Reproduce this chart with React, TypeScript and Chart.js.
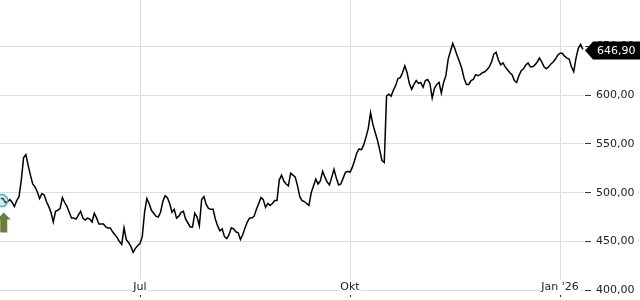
import React, { useEffect, useRef } from 'react';
import { Chart, registerables } from 'chart.js';

Chart.register(...registerables);

// Day index 0 = 2025-04-30; one value per calendar day starting at day 1
const firstDay = 1;
const prices: number[] = [
  494, 494, 490, 491, 493, 490, 486, 492, 496, 513,
  536, 539, 528, 518, 509, 506, 501, 494, 499, 498,
  491, 486, 480, 470, 481, 482, 484, 495, 490, 486,
  480, 474, 474, 473, 477, 481, 474, 472, 474, 473,
  470, 479, 474, 468, 468, 468, 465, 464, 464, 460,
  457, 454, 450, 447, 464, 452, 449, 445, 439, 443,
  446, 448, 455, 480, 494, 489, 482, 479, 476, 475,
  480, 491, 497, 495, 489, 480, 483, 474, 476, 480,
  481, 473, 469, 465, 465, 479, 475, 466, 493, 496,
  488, 484, 483, 483, 473, 466, 461, 463, 455, 453,
  457, 464, 463, 460, 459, 452, 457, 464, 470, 474,
  474, 476, 483, 489, 495, 493, 485, 489, 487, 489,
  492, 492, 513, 518, 512, 509, 507, 520, 518, 516,
  507, 496, 492, 491, 489, 487, 500, 507, 514, 509,
  512, 522, 516, 511, 508, 516, 524, 515, 508, 509,
  515, 521, 522, 521, 526, 533, 541, 545, 544, 549,
  557, 566, 582, 570, 562, 554, 544, 533, 531, 599,
  601, 599, 605, 610, 617, 618, 623, 630, 623, 612,
  606, 611, 615, 612, 613, 608, 615, 616, 612, 597,
  607, 611, 613, 602, 613, 620, 637, 645, 653, 647,
  640, 634, 627, 617, 611, 611, 615, 616, 621, 620,
  621, 623, 624, 626, 629, 634, 642, 644, 636, 631,
  633, 629, 626, 623, 621, 615, 613, 620, 625, 627,
  631, 633, 629, 629, 631, 634, 638, 634, 629, 627,
  629, 632, 634, 637, 641, 643, 643, 640, 638, 637,
  629, 624, 638, 648, 652, 646.9,
];

const xTickDays = [62, 154, 246];
const xTickLabels = ['Jul', 'Okt', "Jan '26"];
const yTicks = [400, 450, 500, 550, 600, 650];
const xMin = 0.67;
const xMax = 256.5;
const yMin = 398.3;
const yMax = 697.5;
const markerIndex = 0;

const FONT = '"DejaVu Sans", sans-serif';

const fmt = (v: number) => v.toFixed(2).replace('.', ',');

const lastPricePlugin = {
  id: 'lastPrice',
  afterDraw(chart: any) {
    const { ctx, chartArea } = chart;
    const y = chart.scales.y;
    const v = prices[prices.length - 1];
    const py = y.getPixelForValue(v) + 1;
    const x0 = chartArea.right + 1;
    ctx.save();
    ctx.fillStyle = '#000';
    ctx.beginPath();
    ctx.moveTo(x0, py);
    ctx.lineTo(x0 + 8, py - 9);
    ctx.lineTo(chart.width, py - 9);
    ctx.lineTo(chart.width, py + 9);
    ctx.lineTo(x0 + 8, py + 9);
    ctx.closePath();
    ctx.fill();
    ctx.fillStyle = '#fff';
    ctx.font = '11px ' + FONT;
    ctx.textBaseline = 'middle';
    ctx.textAlign = 'left';
    ctx.fillText(fmt(v), x0 + 12, py + 0.5);
    ctx.restore();
  },
};

const markerPlugin = {
  id: 'marker',
  afterDatasetsDraw(chart: any) {
    const { ctx } = chart;
    const xs = chart.scales.x;
    const ys = chart.scales.y;
    const px = xs.getPixelForValue(firstDay + markerIndex);
    const py = ys.getPixelForValue(prices[markerIndex]);
    ctx.save();
    ctx.beginPath();
    ctx.arc(px + 1, py + 2, 6, 0, Math.PI * 2);
    ctx.fillStyle = 'rgba(120, 200, 215, 0.35)';
    ctx.fill();
    ctx.lineWidth = 1.5;
    ctx.strokeStyle = '#4fb0c0';
    ctx.stroke();
    const cx = px + 3;
    const top = py + 14;
    ctx.fillStyle = '#6b7d3a';
    ctx.beginPath();
    ctx.moveTo(cx, top);
    ctx.lineTo(cx + 7, top + 7);
    ctx.lineTo(cx + 3.5, top + 7);
    ctx.lineTo(cx + 3.5, top + 20);
    ctx.lineTo(cx - 3.5, top + 20);
    ctx.lineTo(cx - 3.5, top + 7);
    ctx.lineTo(cx - 7, top + 7);
    ctx.closePath();
    ctx.fill();
    ctx.restore();
  },
};

export default function App() {
  const ref = useRef<HTMLCanvasElement | null>(null);

  useEffect(() => {
    if (!ref.current) return;
    const data = prices.map((p, k) => ({ x: firstDay + k, y: p }));
    const chart = new Chart(ref.current, {
      type: 'line',
      data: {
        datasets: [
          {
            data,
            borderColor: '#000',
            borderWidth: 1.5,
            pointRadius: 0,
            tension: 0,
            fill: false,
          },
        ],
      },
      options: {
        animation: false,
        responsive: false,
        maintainAspectRatio: false,
        layout: { padding: 0 },
        plugins: {
          legend: { display: false },
          tooltip: { enabled: false },
        },
        scales: {
          x: {
            type: 'linear',
            position: 'bottom',
            min: xMin,
            max: xMax,
            border: { display: false },
            grid: {
              color: '#dcdcdc',
              lineWidth: 1,
              tickLength: 5,
              tickColor: '#333',
            },
            afterBuildTicks: (scale: any) => {
              scale.ticks = xTickDays.map((v) => ({ value: v }));
            },
            afterFit: (scale: any) => {
              scale.height = 8;
              scale.paddingLeft = 0;
              scale.paddingRight = 0;
            },
            ticks: {
              z: 1,
              mirror: true,
              padding: -2,
              maxRotation: 0,
              autoSkip: false,
              color: '#222',
              font: { family: FONT, size: 11 },
              showLabelBackdrop: true,
              backdropColor: '#fff',
              backdropPadding: 1,
              callback: (v: any) => {
                const idx = xTickDays.indexOf(Number(v));
                return idx >= 0 ? xTickLabels[idx] : '';
              },
            },
          },
          y: {
            type: 'linear',
            position: 'right',
            min: yMin,
            max: yMax,
            border: { display: false },
            grid: {
              color: '#dcdcdc',
              lineWidth: 1,
              tickLength: 7,
              tickColor: '#333',
              tickBorderDash: [6, 100],
              tickBorderDashOffset: -1,
            },
            afterBuildTicks: (scale: any) => {
              scale.ticks = yTicks.map((v) => ({ value: v }));
            },
            afterFit: (scale: any) => {
              scale.width = 56;
              scale.paddingTop = 0;
              scale.paddingBottom = 0;
            },
            ticks: {
              padding: 5,
              color: '#222',
              font: { family: FONT, size: 11 },
              callback: (v: any) => fmt(Number(v)),
            },
          },
        },
      },
      plugins: [markerPlugin, lastPricePlugin],
    } as any);
    return () => chart.destroy();
  }, []);

  return (
    <div style={{ position: 'absolute', left: 0, top: 0, width: 640, height: 300 }}>
      <canvas ref={ref} width={640} height={300} style={{ display: 'block' }} />
    </div>
  );
}
